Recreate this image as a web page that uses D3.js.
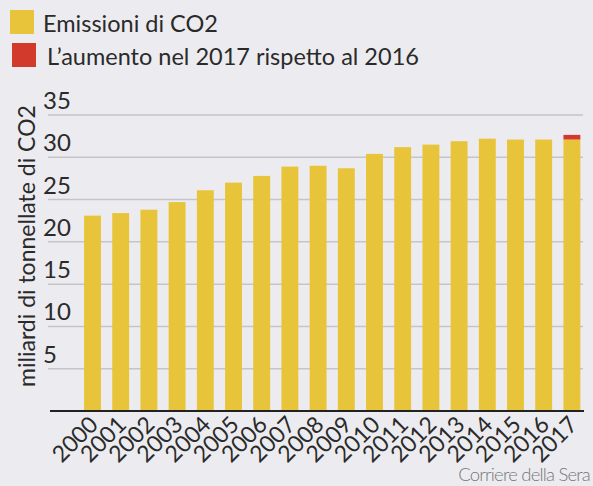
<!DOCTYPE html>
<html>
<head>
<meta charset="utf-8">
<script src="https://cdn.jsdelivr.net/npm/d3@7/dist/d3.min.js"></script>
<style>
  body { margin: 0; background: #ececf0; }
  svg { display: block; font-family: Lato, "Open Sans", sans-serif; }
</style>
</head>
<body>
<svg id="chart" width="593" height="486"></svg>
<script>
// data
var years = ["2000","2001","2002","2003","2004","2005","2006","2007","2008",
             "2009","2010","2011","2012","2013","2014","2015","2016","2017"];
var emissions = [23.1, 23.4, 23.8, 24.7, 26.1, 27.0, 27.8, 28.9, 29.0,
                 28.7, 30.4, 31.2, 31.5, 31.9, 32.2, 32.1, 32.1, 32.1];
var increase = [0, 0, 0, 0, 0, 0, 0, 0, 0, 0, 0, 0, 0, 0, 0, 0, 0, 0.55];
var yTicks = [5, 10, 15, 20, 25, 30, 35];
var legendLabels = ["Emissioni di CO2", "L\u2019aumento nel 2017 rispetto al 2016"];
var colors = ["#e8c43a", "#d23a2c"];

var svg = d3.select("#chart");

var x = d3.scaleBand()
  .domain(years)
  .range([78.4, 586])
  .paddingInner(0.4)
  .paddingOuter(0.2);

var y = d3.scaleLinear()
  .domain([0, 35])
  .range([411, 115]);

// gridlines + tick labels
var grid = svg.append("g");
grid.selectAll("line")
  .data(yTicks)
  .enter()
  .append("line")
  .attr("x1", 48)
  .attr("x2", 583)
  .attr("y1", function(d) { return y(d); })
  .attr("y2", function(d) { return y(d); })
  .attr("stroke", "#c4c4c9")
  .attr("stroke-width", 1.5);

grid.selectAll("text")
  .data(yTicks)
  .enter()
  .append("text")
  .attr("x", 43)
  .attr("y", function(d) { return y(d) - 6; })
  .attr("font-size", 24)
  .attr("fill", "#2a2a2a")
  .text(function(d) { return d; });

// bars
svg.append("g")
  .selectAll("rect")
  .data(years)
  .enter()
  .append("rect")
  .attr("x", function(d) { return x(d); })
  .attr("width", x.bandwidth())
  .attr("y", function(d, i) { return y(emissions[i]); })
  .attr("height", function(d, i) { return y(0) - y(emissions[i]); })
  .attr("fill", colors[0]);

svg.append("g")
  .selectAll("rect")
  .data(years)
  .enter()
  .append("rect")
  .attr("x", function(d) { return x(d); })
  .attr("width", x.bandwidth())
  .attr("y", function(d, i) { return y(emissions[i] + increase[i]); })
  .attr("height", function(d, i) { return y(emissions[i]) - y(emissions[i] + increase[i]); })
  .attr("fill", colors[1]);

// baseline
svg.append("line")
  .attr("x1", 50)
  .attr("x2", 584)
  .attr("y1", y(0))
  .attr("y2", y(0))
  .attr("stroke", "#222")
  .attr("stroke-width", 2);

// x labels
svg.append("g")
  .selectAll("text")
  .data(years)
  .enter()
  .append("text")
  .attr("text-anchor", "end")
  .attr("font-size", 23)
  .attr("fill", "#2a2a2a")
  .attr("transform", function(d) {
    return "translate(" + (x(d) + x.bandwidth() / 2 + 7) + "," + (y(0) + 15) + ") rotate(-45)";
  })
  .text(function(d) { return d; });

// y title
svg.append("text")
  .attr("transform", "translate(35,246) rotate(-90)")
  .attr("text-anchor", "middle")
  .attr("font-size", 23)
  .attr("fill", "#2a2a2a")
  .text("miliardi di tonnellate di CO2");

// legend
var legend = svg.append("g");
legendLabels.forEach(function(label, i) {
  legend.append("rect")
    .attr("x", 10 + i * 2)
    .attr("y", 10 + i * 33)
    .attr("width", 24)
    .attr("height", 24)
    .attr("fill", colors[i]);
  legend.append("text")
    .attr("x", 43 + i * 4)
    .attr("y", 32 + i * 33)
    .attr("font-size", 23.5)
    .attr("fill", "#2a2a2a")
    .text(label);
});

// source
svg.append("text")
  .attr("x", 590)
  .attr("y", 481)
  .attr("text-anchor", "end")
  .attr("font-size", 18.5)
  .attr("font-weight", 300)
  .attr("letter-spacing", -0.8)
  .attr("fill", "#777")
  .text("Corriere della Sera");
</script>
</body>
</html>
